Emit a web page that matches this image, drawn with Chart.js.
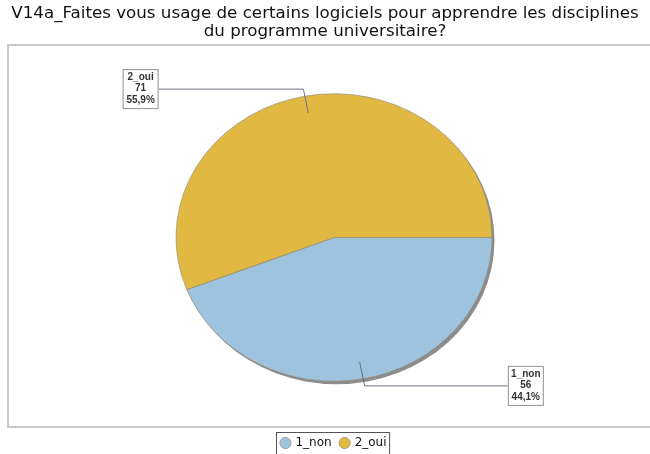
<!DOCTYPE html>
<html>
<head>
<meta charset="utf-8">
<script src="https://cdn.jsdelivr.net/npm/chart.js@4"></script>
<style>
  html, body { margin: 0; padding: 0; background: #fff; }
  #wrap { width: 650px; height: 454px; }
</style>
</head>
<body>
<div id="wrap"><canvas id="myChart"></canvas></div>
<script>
const titleLines = ['V14a_Faites vous usage de certains logiciels pour apprendre les disciplines', 'du programme universitaire?']
const categories = ['1_non', '2_oui']
const counts = [56, 71]
const colors = ['#9EC3DE', '#E1B841']

const total = counts.reduce((a, b) => a + b, 0)
const percents = counts.map(v => (v / total * 100).toFixed(1).replace('.', ',') + '%')

// the original pie is a bit flatter than a circle
const squash = 0.91

const piePlugin = {
    id: 'piePlugin',
    beforeDraw(chart) {
        const ctx = chart.ctx
        ctx.save()
        ctx.fillStyle = '#fff'
        ctx.fillRect(0, 0, chart.width, chart.height)
        ctx.strokeStyle = '#c8c8c8'
        ctx.lineWidth = 2
        ctx.strokeRect(8, 45, chart.width, 382)
        // title centred on the whole canvas (the pie sits a little right of centre)
        ctx.fillStyle = '#111'
        ctx.font = '16.7px "DejaVu Sans", sans-serif'
        ctx.textAlign = 'center'
        ctx.textBaseline = 'middle'
        titleLines.forEach((t, k) => ctx.fillText(t, chart.width / 2, 14 + k * 18))
        ctx.restore()
    },
    beforeDatasetsDraw(chart) {
        const ctx = chart.ctx
        const arc = chart.getDatasetMeta(0).data[0]
        const { x, y, outerRadius } = arc
        ctx.save()
        ctx.translate(x, y)
        ctx.scale(1, squash)
        ctx.beginPath()
        ctx.arc(2.5, 3 / squash, outerRadius, 0, Math.PI * 2)
        ctx.fillStyle = 'rgba(120,120,120,0.85)'
        ctx.fill()
        ctx.restore()
        ctx.save()
        ctx.translate(x, y)
        ctx.scale(1, squash)
        ctx.translate(-x, -y)
    },
    afterDatasetsDraw(chart) {
        const ctx = chart.ctx
        ctx.restore()
        const meta = chart.getDatasetMeta(0)
        meta.data.forEach((arc, i) => {
            const mid = (arc.startAngle + arc.endAngle) / 2
            const cx = arc.x, cy = arc.y, r = arc.outerRadius
            const px = f => cx + Math.cos(mid) * r * f
            const py = f => cy + Math.sin(mid) * r * f * squash
            const right = Math.cos(mid) >= 0
            const edge = right ? cx + r * 1.10 : cx - r * 1.11
            const ey = py(1.05)
            ctx.save()
            ctx.strokeStyle = '#707080'
            ctx.lineWidth = 1
            ctx.beginPath()
            ctx.moveTo(px(0.88), py(0.88))
            ctx.lineTo(px(1.05), ey)
            ctx.lineTo(edge, ey)
            ctx.stroke()
            const w = 36, h = 40
            const bx = right ? edge : edge - w
            const by = ey - h / 2
            ctx.fillStyle = '#fff'
            ctx.fillRect(bx, by, w, h)
            ctx.strokeStyle = '#909090'
            ctx.strokeRect(bx + 0.5, by + 0.5, w - 1, h - 1)
            ctx.fillStyle = '#333'
            ctx.font = 'bold 10px "Liberation Sans", Arial, sans-serif'
            ctx.textAlign = 'center'
            ctx.textBaseline = 'middle'
            const lines = [categories[i], String(counts[i]), percents[i]]
            lines.forEach((t, k) => ctx.fillText(t, bx + w / 2, by + 8 + k * 11.5))
            ctx.restore()
        })
    },
    afterDraw(chart) {
        const boxes = chart.legend.legendHitBoxes
        if (!boxes || !boxes.length) return
        const left = Math.min(...boxes.map(b => b.left)) - 5
        const right = Math.max(...boxes.map(b => b.left + b.width)) + 3
        const top = Math.min(...boxes.map(b => b.top)) - 5
        const ctx = chart.ctx
        ctx.save()
        ctx.strokeStyle = '#555'
        ctx.lineWidth = 1
        ctx.strokeRect(Math.round(left) + 0.5, Math.round(top) + 0.5, right - left, 40)
        ctx.restore()
    }
}

const ctx = document.getElementById('myChart').getContext('2d')
const myChart = new Chart(ctx, {
    type: 'pie',
    data: {
        labels: categories,
        datasets: [{
            data: counts,
            backgroundColor: colors,
            borderColor: 'rgba(150,140,120,0.7)',
            borderWidth: 1,
            radius: 158
        }]
    },
    options: {
        responsive: true,
        maintainAspectRatio: false,
        animation: false,
        rotation: 90,
        layout: { padding: { left: 18, right: 0, top: 47, bottom: -5 } },
        plugins: {
            title: { display: false },
            legend: {
                position: 'bottom',
                labels: {
                    usePointStyle: true,
                    pointStyle: 'circle',
                    boxWidth: 8,
                    boxHeight: 8,
                    padding: 9,
                    color: '#111',
                    font: { family: '"DejaVu Sans", sans-serif', size: 12 }
                }
            },
            tooltip: { enabled: false }
        }
    },
    plugins: [piePlugin]
})
</script>
</body>
</html>
